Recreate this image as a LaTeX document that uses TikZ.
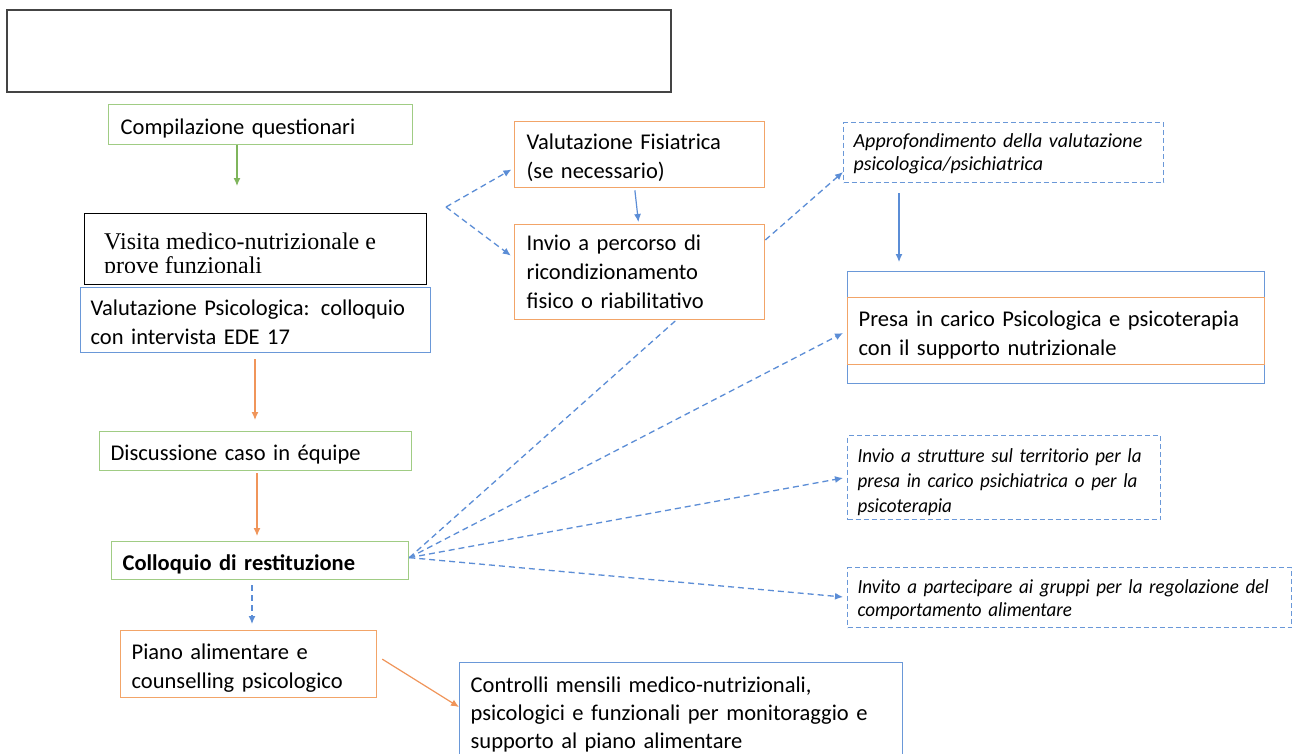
\documentclass[tikz,border=0pt]{standalone}
\usepackage{fontspec}
\setmainfont{Carlito}
\newfontfamily\timesf{Liberation Serif}
\newfontfamily\narrowf[FakeStretch=0.95]{Carlito}
\usetikzlibrary{arrows.meta,calc}
\definecolor{cblue}{HTML}{6A98D8}
\definecolor{lblue}{HTML}{5B8DD6}
\definecolor{corange}{HTML}{F2A468}
\definecolor{aorange}{HTML}{F0955A}
\definecolor{cgreen}{HTML}{A0CC84}
\definecolor{agreen}{HTML}{7FB55C}
\definecolor{dgray}{HTML}{444444}
\def\sht{30pt}\def\sdp{5.6pt}
\newcommand\nols{\lineskiplimit-100pt\relax}
\newcommand\Lm[1]{\mbox{\rule[-\sdp]{0pt}{\sht}#1}}
\newcommand\Ln[1]{\mbox{#1}}
\tikzset{
  bx/.style={draw, line width=1.3pt, anchor=north west, inner ysep=0pt, align=left,
    font=\fontsize{22.5}{29}\selectfont\nols},
  itbx/.style={bx, draw=cblue, dash pattern=on 5pt off 3pt,
    font=\fontsize{20}{23}\selectfont\itshape\nols\def\sht{24pt}},
  nbx/.style={bx, draw=cblue, dash pattern=on 5pt off 3pt,
    font=\narrowf\fontsize{20}{25}\selectfont\itshape\nols\def\sht{30pt}},
  tip/.style={-{Latex[length=8pt,width=7pt]}},
  garrow/.style={tip, draw=agreen, line width=1.2pt},
  oarrow/.style={tip, draw=aorange, line width=1.2pt},
  barrow/.style={tip, draw=lblue, line width=1.2pt},
  darrow/.style={tip, draw=lblue, line width=1.3pt, dash pattern=on 6pt off 4pt},
  dline/.style={draw=lblue, line width=1.3pt, dash pattern=on 6pt off 4pt},
}
\begin{document}
\begin{tikzpicture}[x=1pt,y=-1pt]
\useasboundingbox[fill=white] (0,0) rectangle (1293,753);

% top empty box
\node[draw=dgray, line width=1.6pt, anchor=north west, minimum width=664pt, minimum height=82pt, inner sep=0pt] (top) at (6,9) {};

% left column
\node[bx, draw=cgreen, inner xsep=12pt, text width=280pt, minimum height=40pt] (q) at (108,104)
  {\Lm{Compilazione questionari}};
\node[draw=black, line width=1.3pt, anchor=north west, minimum width=342pt, minimum height=71pt, inner sep=0pt] (vis) at (84,213) {};
\begin{scope}
  \clip (84,213) rectangle (426,272);
  \node[anchor=north west, inner sep=0pt, align=left, font=\timesf\fontsize{24}{24.5}\selectfont] (vistext) at (104,232.5)
    {Visita medico-nutrizionale e\\prove funzionali};
\end{scope}
\node[bx, draw=cblue, inner xsep=10pt, text width=330pt, minimum height=65pt] (vp) at (80,287)
  {\Lm{Valutazione Psicologica: colloquio}\\\Lm{con intervista EDE 17}};
\node[bx, draw=cgreen, inner xsep=11pt, text width=290pt, minimum height=39pt] (disc) at (99,431)
  {\Lm{Discussione caso in équipe}};
\node[bx, draw=cgreen, inner xsep=11pt, text width=275pt, minimum height=38pt, font=\fontsize{22.5}{29}\selectfont\bfseries\nols] (coll) at (111,541)
  {\Lm{Colloquio di restituzione}};
\node[bx, draw=corange, inner xsep=11pt, text width=234pt, minimum height=67pt] (piano) at (120,630)
  {\Lm{Piano alimentare e}\\\Lm{counselling psicologico}};
\node[bx, draw=cblue, inner xsep=11pt, text width=421pt, minimum height=96pt, font=\fontsize{22.5}{28}\selectfont\nols] (ctrl) at (459,662)
  {\Lm{Controlli mensili medico-nutrizionali,}\\\Lm{psicologici e funzionali per monitoraggio e}\\\Lm{supporto al piano alimentare}};

% middle column
\node[bx, draw=corange, inner xsep=12pt, text width=226pt, minimum height=66pt] (fisi) at (514,121)
  {\Lm{Valutazione Fisiatrica}\\\Lm{(se necessario)}};
\node[bx, draw=corange, inner xsep=12pt, text width=226pt, minimum height=95pt] (invio) at (514,224)
  {\Ln{Invio a percorso di}\\\Ln{ricondizionamento}\\\Ln{fisico o riabilitativo}};

% right column
\node[itbx, inner xsep=10pt, text width=300pt, minimum height=60pt] (approf) at (843,122)
  {\Lm{Approfondimento della valutazione}\\\Lm{psicologica/psichiatrica}};
\node[draw=cblue, line width=1.3pt, anchor=north west, minimum width=417pt, minimum height=112pt, inner sep=0pt] (presaO) at (847,271) {};
\node[bx, draw=corange, inner xsep=11pt, text width=395pt, minimum height=67pt] (presa) at (847,297)
  {\Lm{Presa in carico Psicologica e psicoterapia}\\\Lm{con il supporto nutrizionale}};
\node[nbx, inner xsep=10pt, text width=293pt, minimum height=84pt] (strut) at (847,435)
  {\Lm{Invio a strutture sul territorio per la}\\\Lm{presa in carico psichiatrica o per la}\\\Lm{psicoterapia}};
\node[nbx, inner xsep=10pt, text width=424pt, minimum height=60pt, font=\narrowf\fontsize{20}{23}\selectfont\itshape\nols\def\sht{25pt}] (invito) at (847,567)
  {\Lm{Invito a partecipare ai gruppi per la regolazione del}\\\Lm{comportamento alimentare}};

% helper coordinates
\coordinate (qend) at (237,186);
\coordinate (x255) at (255,0);
\coordinate (x257) at (257,0);
\coordinate (x252) at (252,0);
\coordinate (x899) at (899,0);
\coordinate (br) at (446,207);
\coordinate (y168) at (0,168);
\coordinate (y258) at (0,258);
\coordinate (y240) at (0,240);
\coordinate (y172) at (0,172);
\coordinate (y707) at (0,707);
\coordinate (y333) at (0,333);
\coordinate (y478) at (0,478);
\coordinate (y597) at (0,597);
\coordinate (x676) at (676,0);

% connectors
\draw[garrow] (q.south -| qend) -- (qend);
\draw[oarrow, shorten <=6pt, shorten >=11pt] (vp.south -| x255) -- (disc.north -| x255);
\draw[oarrow, shorten <=2pt, shorten >=5pt] (disc.south -| x257) -- (coll.north -| x257);
\draw[darrow, shorten <=5pt, shorten >=6pt] (coll.south -| x252) -- (piano.north -| x252);
\draw[oarrow] ([shift={(5,-5)}]piano.east) -- (ctrl.west |- y707);

\draw[barrow, shorten <=2pt, shorten >=2pt] ([xshift=-5pt]fisi.south) -- ([xshift=-1pt]invio.north);
\draw[darrow, shorten >=3pt] (br) -- (fisi.west |- y168);
\draw[darrow, shorten >=4pt] (br) -- (invio.west |- y258);
\draw[darrow] (invio.east |- y240) -- (approf.west |- y172);
\draw[barrow, shorten <=10pt, shorten >=9pt] (approf.south -| x899) -- (presaO.north -| x899);

\draw[dline] ([yshift=3pt]coll.east) -- (invio.south -| x676);
\draw[darrow] ([yshift=3pt]coll.east) -- ([xshift=-4pt]presa.west |- y333);
\draw[darrow] ([yshift=3pt]coll.east) -- ([xshift=-4pt]strut.west |- y478);
\draw[darrow] ([yshift=3pt]coll.east) -- ([xshift=-4pt]invito.west |- y597);
\end{tikzpicture}
\end{document}
